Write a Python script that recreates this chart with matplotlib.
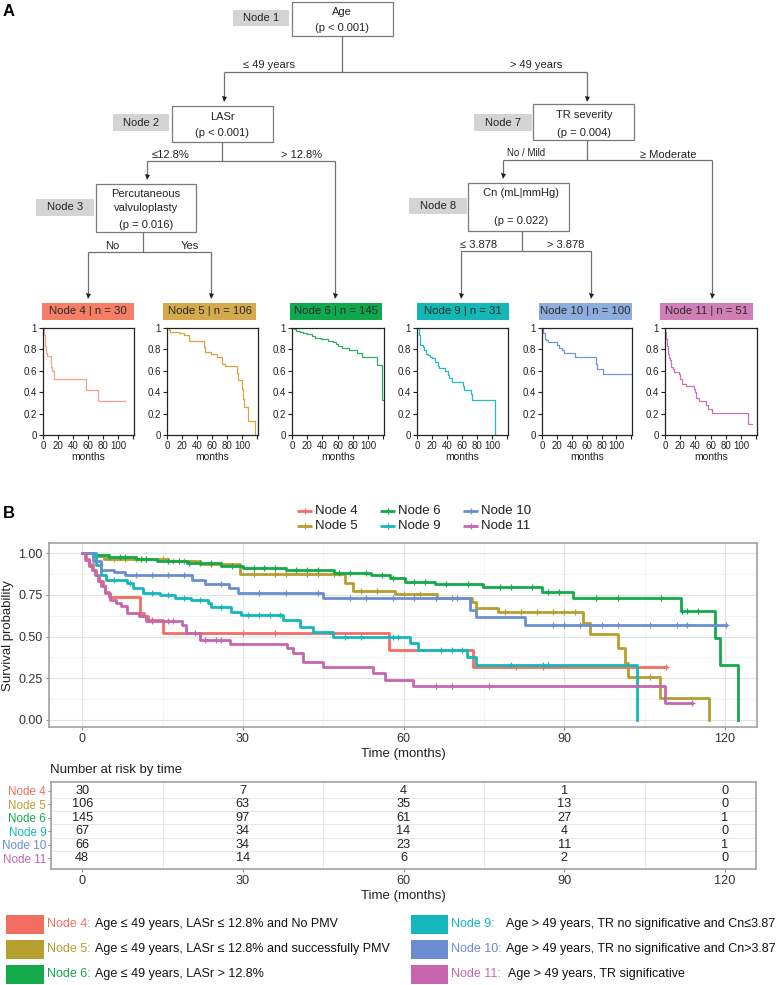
import numpy as np
import matplotlib
matplotlib.use('Agg')
import matplotlib.pyplot as plt
from matplotlib.patches import Rectangle

plt.rcParams['font.family'] = ['Liberation Sans', 'DejaVu Sans']

# ---------------- data ----------------
node_names = ['Node 4', 'Node 5', 'Node 6', 'Node 9', 'Node 10', 'Node 11']
node_n = [30, 106, 145, 31, 100, 51]

t_node4 = [0, 0.7, 1.3, 2.0, 2.6, 3.2, 3.8, 4.2, 5.0, 10.8, 11.5, 12.2, 15.1, 57.3, 73.0, 109.0]
s_node4 = [1.0, 0.967, 0.933, 0.90, 0.867, 0.833, 0.80, 0.767, 0.738, 0.64, 0.62, 0.60, 0.52, 0.42, 0.315, 0.315]
t_node5 = [0, 2.0, 4.0, 16, 22, 29.5, 49.0, 50.5, 58.4, 66.2, 72.7, 73.6, 77.7, 93.5, 94.8, 100.1, 101.3, 102.0, 107.8, 117.1]
s_node5 = [1.0, 0.985, 0.965, 0.955, 0.935, 0.875, 0.82, 0.775, 0.754, 0.728, 0.708, 0.668, 0.645, 0.579, 0.515, 0.429, 0.339, 0.259, 0.13, 0.0]
t_node6 = [0, 2.0, 5.0, 10, 14, 19.5, 26, 30, 38, 47, 54, 57.4, 60.3, 65.8, 74.9, 85.8, 91.7, 111.9, 118.1, 119.0, 122.5]
s_node6 = [1.0, 0.988, 0.975, 0.965, 0.95, 0.94, 0.925, 0.91, 0.898, 0.88, 0.868, 0.853, 0.828, 0.812, 0.798, 0.768, 0.732, 0.652, 0.49, 0.33, 0.0]
t_node9 = [0, 2.5, 3.5, 4.5, 8.3, 9.5, 11.4, 14.5, 17.3, 20.3, 23.5, 24.1, 27.8, 29.7, 37.5, 40.6, 43.1, 46.9, 61.2, 62.7, 71.8, 73.6, 103.5]
s_node9 = [1.0, 0.93, 0.87, 0.838, 0.818, 0.79, 0.758, 0.749, 0.729, 0.719, 0.699, 0.679, 0.649, 0.629, 0.599, 0.559, 0.529, 0.499, 0.459, 0.419, 0.379, 0.329, 0.0]
t_node10 = [0, 2.0, 3.5, 6.0, 8.0, 20.5, 23.0, 27.5, 29.0, 45.0, 72.4, 73.6, 82.6, 120.3]
s_node10 = [1.0, 0.95, 0.90, 0.885, 0.868, 0.838, 0.815, 0.79, 0.762, 0.728, 0.66, 0.619, 0.569, 0.569]
t_node11 = [0, 0.5, 1.2, 1.8, 2.4, 3.0, 3.6, 4.2, 5.2, 6.3, 7.3, 8.3, 10.6, 12.0, 18.6, 19.3, 22.0, 27.6, 38.2, 39.4, 41.3, 45.0, 54.3, 56.5, 61.8, 108.8, 113.8]
s_node11 = [1.0, 0.96, 0.92, 0.90, 0.87, 0.83, 0.80, 0.76, 0.72, 0.70, 0.68, 0.64, 0.62, 0.59, 0.57, 0.52, 0.48, 0.455, 0.43, 0.40, 0.35, 0.315, 0.28, 0.24, 0.204, 0.10, 0.10]

cens_node4 = [13, 21, 30, 36, 81, 86, 109]
cens_node5 = [6, 8, 10, 12, 15, 17, 19, 24, 26, 32, 36, 38, 42, 44, 47, 52, 55, 60, 63, 69, 79, 82, 85, 88, 90, 92, 106]
cens_node6 = [5, 7, 8, 11, 12, 16, 18, 20, 22, 24, 28, 32, 34, 36, 40, 42, 44, 48, 50, 53, 56, 58, 62, 64, 68, 72, 78, 80, 84, 87, 89, 96, 100, 108, 112, 113, 115]
cens_node9 = [6, 9, 13, 16, 19, 22, 26, 31, 33, 35, 37, 49, 52, 58, 59, 67, 69, 71, 80, 86, 87]
cens_node10 = [10, 13, 16, 19, 26, 33, 38, 44, 50, 53, 58, 62, 66, 70, 88, 90, 93, 97, 100, 106, 111, 113, 120.3]
cens_node11 = [13, 16, 17, 23, 25, 26, 66, 69, 76, 113.8]

risk_times = [0, 30, 60, 90, 120]
risk_node4 = [30, 7, 4, 1, 0]
risk_node5 = [106, 63, 35, 13, 0]
risk_node6 = [145, 97, 61, 27, 1]
risk_node9 = [67, 34, 14, 4, 0]
risk_node10 = [66, 34, 23, 11, 1]
risk_node11 = [48, 14, 6, 2, 0]

legend_desc = ['Age \u2264 49 years, LASr \u2264 12.8% and No PMV',
               'Age \u2264 49 years, LASr \u2264 12.8% and successfully PMV',
               'Age \u2264 49 years, LASr > 12.8%',
               'Age > 49 years, TR no significative and Cn\u22643.87',
               'Age > 49 years, TR no significative and Cn>3.87',
               'Age > 49 years, TR significative']

tree_node_ids = ['Node 1', 'Node 2', 'Node 3', 'Node 7', 'Node 8']
tree_node_text = [['Age', '(p < 0.001)'], ['LASr', '(p < 0.001)'],
                  ['Percutaneous', 'valvuloplasty', '(p = 0.016)'],
                  ['TR severity', '(p = 0.004)'], ['Cn (mL|mmHg)', '', '(p = 0.022)']]
split_labels = ['\u2264 49 years', '> 49 years', '\u226412.8%', '> 12.8%', 'No', 'Yes',
                'No / Mild', '\u2265 Moderate', '\u2264 3.878', '> 3.878']

small_yticks = [0, 0.2, 0.4, 0.6, 0.8, 1.0]
small_ylabels = ['0', '0.2', '0.4', '0.6', '0.8', '1']
small_xticks = [0, 20, 40, 60, 80, 100, 120]
small_xlabels = ['0', '20', '40', '60', '80', '100', '']

main_colors = ['#F26E62', '#B49F2F', '#14A94B', '#14B8BC', '#6A8ED0', '#C566AE']
header_colors = ['#F47E66', '#D5A94E', '#0FA94D', '#13B8B5', '#8EADDF', '#D07FB6']
small_colors = ['#F3A08C', '#D9A23E', '#2DB060', '#27BCBC', '#7395D5', '#CB73B5']

T = [t_node4, t_node5, t_node6, t_node9, t_node10, t_node11]
S = [s_node4, s_node5, s_node6, s_node9, s_node10, s_node11]
C = [cens_node4, cens_node5, cens_node6, cens_node9, cens_node10, cens_node11]
R = [risk_node4, risk_node5, risk_node6, risk_node9, risk_node10, risk_node11]

# ---------------- figure ----------------
W, H = 777, 985
fig = plt.figure(figsize=(W / 100, H / 100), dpi=100)


def add_px(x0, y0, x1, y1, **kw):
    return fig.add_axes([x0 / W, 1 - y1 / H, (x1 - x0) / W, (y1 - y0) / H], **kw)


def surv_at(t, s, c):
    idx = np.searchsorted(np.asarray(t), np.asarray(c), side='right') - 1
    return np.asarray(s)[idx]


ov = add_px(0, 0, W, H)
ov.set_xlim(0, W)
ov.set_ylim(H, 0)
ov.axis('off')

LC = '#707070'
TXT = 8


def seg(x0, y0, x1, y1):
    ov.plot([x0, x1], [y0, y1], color=LC, lw=0.9, solid_capstyle='butt')


def arrow(x, y0, tip):
    seg(x, y0, x, tip - 1)
    ov.plot([x], [tip - 2], marker='v', ms=3.6, color='#222222', mew=0)


# panel labels
ov.text(3, 11, 'A', fontsize=12, fontweight='bold', va='center', ha='left')
ov.text(3, 513, 'B', fontsize=12, fontweight='bold', va='center', ha='left')

# tree boxes
boxes = [(292, 2, 393, 36, 342), (172, 106, 273, 142, 222), (96, 184, 196, 232, 146),
         (533, 104, 634, 140, 584), (468, 183, 569, 231, 521)]
box_text_y = [[12, 28], [117, 133], [194, 208, 225], [115, 133], [193, 207, 221]]
gray_boxes = [(233, 10, 289, 26), (113, 114, 169, 131), (36, 199, 94, 216),
              (474, 114, 532, 131), (409, 198, 467, 214)]
for (x0, y0, x1, y1, cx), ys, lines, g, nid in zip(boxes, box_text_y, tree_node_text, gray_boxes, tree_node_ids):
    ov.add_patch(Rectangle((x0, y0), x1 - x0, y1 - y0, facecolor='white', edgecolor='#7A7A7A', lw=0.9))
    for yy, tx in zip(ys, lines):
        ov.text(cx, yy, tx, fontsize=TXT, ha='center', va='center', color='#222222')
    gx0, gy0, gx1, gy1 = g
    ov.add_patch(Rectangle((gx0, gy0), gx1 - gx0, gy1 - gy0, facecolor='#D4D4D4', edgecolor='none'))
    ov.text((gx0 + gx1) / 2, (gy0 + gy1) / 2, nid, fontsize=TXT, ha='center', va='center', color='#222222')

# tree connectors
seg(342, 36, 342, 72); seg(224, 72, 587, 72)
arrow(224, 72, 101); arrow(587, 72, 101)
seg(222, 142, 222, 161); seg(147, 161, 335, 161)
arrow(147, 161, 179); arrow(335, 161, 298)
seg(143, 232, 143, 252); seg(88, 252, 211, 252)
arrow(88, 252, 298); arrow(211, 252, 298)
seg(587, 140, 587, 160); seg(503, 160, 712, 160)
arrow(503, 160, 178); arrow(712, 160, 298)
seg(522, 231, 522, 251); seg(461, 251, 591, 251)
arrow(461, 251, 298); arrow(591, 251, 298)

split_pos = [(269, 65), (536, 65), (171, 155), (302, 155), (112, 246), (190, 246),
             (526, 153), (668, 155), (479, 245), (566, 245)]
for (x, y), lab in zip(split_pos, split_labels):
    ov.text(x, y, lab, fontsize=7 if lab == 'No / Mild' else TXT, ha='center', va='center', color='#222222')

# node headers and small KM plots
header_px = [(42, 134), (163, 256), (290, 382), (417, 509), (539, 632), (660, 753)]
small_px = [(43, 134), (167, 258), (292, 384), (417, 508), (542, 632), (665, 757)]
for i in range(6):
    hx0, hx1 = header_px[i]
    ov.add_patch(Rectangle((hx0, 303), hx1 - hx0, 17, facecolor=header_colors[i], edgecolor='none'))
    ov.text((hx0 + hx1) / 2, 311.5, f'{node_names[i]} | n = {node_n[i]}', fontsize=8.2,
            ha='center', va='center', color='#2A2A2A')
    sx0, sx1 = small_px[i]
    a = add_px(sx0, 328, sx1, 435)
    a.step(T[i], S[i], where='post', color=small_colors[i], lw=0.9)
    a.set_xlim(0, 121)
    a.set_ylim(0, 1)
    a.set_xticks(small_xticks)
    a.set_xticklabels(small_xlabels)
    a.set_yticks(small_yticks)
    a.set_yticklabels(small_ylabels)
    a.tick_params(length=3, width=0.8, labelsize=7, pad=1.5, colors='#222222')
    for sp in a.spines.values():
        sp.set_linewidth(0.9)
        sp.set_color('#222222')
    a.set_xlabel('months', fontsize=7.5, labelpad=0.5, color='#222222')

# ---------------- panel B: main KM ----------------
ax = add_px(49, 543, 757, 727)
XL = (-6.2, 126.0)
for i in range(6):
    ax.step(T[i], S[i], where='post', color=main_colors[i], lw=2.0)
    ax.plot(C[i], surv_at(T[i], S[i], C[i]), ls='none', marker='+', ms=4.5, mew=0.9, color=main_colors[i])
ax.set_xlim(*XL)
ax.set_ylim(-0.042, 1.06)
ax.set_xticks([0, 30, 60, 90, 120])
ax.set_xticks([15, 45, 75, 105], minor=True)
ax.set_yticks([0, 0.25, 0.5, 0.75, 1.0])
ax.set_yticklabels(['0.00', '0.25', '0.50', '0.75', '1.00'])
ax.set_yticks([0.125, 0.375, 0.625, 0.875], minor=True)
ax.grid(which='major', color='#E3E3E3', lw=0.8)
ax.grid(which='minor', color='#F1F1F1', lw=0.6)
ax.set_axisbelow(True)
ax.tick_params(which='major', length=2.5, width=0.7, color='#888888', labelsize=9, labelcolor='#333333', pad=2)
ax.tick_params(which='minor', length=0)
for sp in ax.spines.values():
    sp.set_color('#A2A2A2')
    sp.set_linewidth(1.2)
ax.set_xlabel('Time (months)', fontsize=9.5, color='#222222', labelpad=2)
fig.text(8 / W, 1 - 636 / H, 'Survival probability', rotation=90, fontsize=9.5,
         ha='center', va='center', color='#222222')

# legend (top of panel B)
leg_x = [297, 297, 380, 380, 463, 463]
leg_y = [511, 526, 511, 526, 511, 526]
for i in range(6):
    x0, y0 = leg_x[i], leg_y[i]
    ov.plot([x0, x0 + 15], [y0, y0], color=main_colors[i], lw=2.0, solid_capstyle='butt')
    ov.plot([x0 + 7.5], [y0], marker='+', ms=5, mew=0.9, color=main_colors[i])
    ov.text(x0 + 18, y0, node_names[i], fontsize=9.5, va='center', ha='left', color='#222222')

# ---------------- risk table ----------------
tab = add_px(51, 782, 756, 869)
tab.set_xlim(XL[0] + (51 - 49) / 708 * (XL[1] - XL[0]), XL[1] - (757 - 756) / 708 * (XL[1] - XL[0]))
tab.set_ylim(5.82, -0.67)
for i in range(6):
    for j, tt in enumerate(risk_times):
        tab.text(tt, i, str(R[i][j]), ha='center', va='center', fontsize=9.2, color='#222222')
tab.set_yticks(range(6))
tab.set_yticklabels(node_names)
for lab, col in zip(tab.get_yticklabels(), main_colors):
    lab.set_color(col)
tab.set_xticks(risk_times)
tab.set_xticks([15, 45, 75, 105], minor=True)
tab.set_yticks([0.5, 1.5, 2.5, 3.5, 4.5], minor=True)
tab.grid(which='minor', color='#E6E6E6', lw=0.7)
tab.grid(which='major', visible=False)
tab.set_axisbelow(True)
tab.tick_params(which='major', length=2.5, width=0.7, color='#888888', pad=1)
tab.tick_params(axis='y', labelsize=8.4)
tab.tick_params(axis='x', labelcolor='#333333', labelsize=9.2, pad=2)
tab.tick_params(which='minor', length=0)
for sp in tab.spines.values():
    sp.set_color('#A2A2A2')
    sp.set_linewidth(1.2)
tab.set_xlabel('Time (months)', fontsize=9.5, color='#222222', labelpad=2)
ov.text(50, 770, 'Number at risk by time', fontsize=9.5, ha='left', va='center', color='#222222')

# ---------------- bottom legend ----------------
fig.canvas.draw()
renderer = fig.canvas.get_renderer()
box_x = [(6, 44), (6, 44), (6, 44), (411, 448), (411, 448), (411, 448)]
row_y = [924, 949, 974, 924, 949, 974]
desc_x = [95, 95, 95, 506, 506, 508]
for i in range(6):
    bx0, bx1 = box_x[i]
    yc = row_y[i]
    ov.add_patch(Rectangle((bx0, yc - 9.5), bx1 - bx0, 19, facecolor=main_colors[i], edgecolor='none'))
    t1 = ov.text(bx1 + 3, yc, node_names[i] + ':', fontsize=9, color=main_colors[i], ha='left', va='center')
    bb = t1.get_window_extent(renderer)
    end_px = bb.x1 * W / fig.bbox.width
    ov.text(max(desc_x[i], end_px + 2), yc, legend_desc[i], fontsize=9, color='#111111', ha='left', va='center')

fig.savefig('out.png', dpi=100, facecolor='white')
